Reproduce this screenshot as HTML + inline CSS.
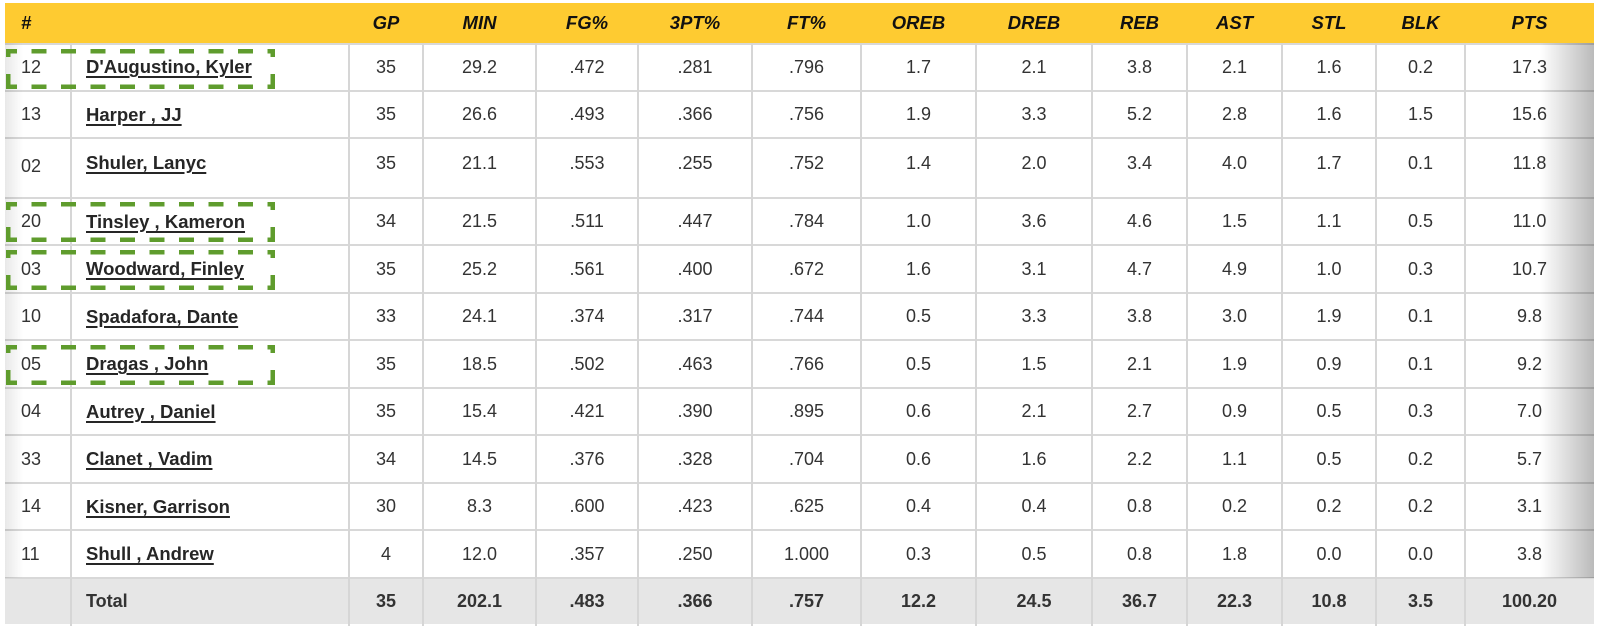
<!DOCTYPE html>
<html>
<head>
<meta charset="utf-8">
<style>
html,body{margin:0;padding:0;background:#fff;}
body{width:1600px;height:626px;position:relative;overflow:hidden;font-family:"Liberation Sans",Arial,sans-serif;color:#333;}
.hdr{position:absolute;left:5px;top:3px;width:1589px;height:40px;background:#fecb31;}
.row{position:absolute;left:5px;width:1589px;display:grid;grid-template-columns:66px 278px 74px 113px 102px 114px 109px 115px 116px 95px 95px 94px 89px 129px;align-items:center;}
.row>div{text-align:center;font-size:18px;white-space:nowrap;}
.row>div:nth-child(1){text-align:left;padding-left:16px;}
.row>div:nth-child(2){text-align:left;padding-left:15px;}
.hdr.row>div{font-weight:bold;font-style:italic;font-size:18.5px;color:#111;}
.nm{font-weight:bold;font-size:18.5px;color:#262626;text-decoration:underline;text-decoration-thickness:1.5px;text-underline-offset:3px;}
.tot{background:#e6e6e6;}
.tot>div{font-weight:bold;}
.hl{position:absolute;left:5px;width:1589px;height:2px;background:#d8d8d8;}
.vl{position:absolute;top:43px;height:583px;width:2px;background:#d6d6d6;}
.lg{position:absolute;left:5px;top:43px;width:18px;height:535px;background:linear-gradient(to right,rgba(0,0,0,0.09),rgba(0,0,0,0));}
.rg{position:absolute;left:1540px;top:43px;width:54px;height:535px;background:linear-gradient(to right,rgba(0,0,0,0),rgba(0,0,0,0.27));}
</style>
</head>
<body>
<div class="hdr row" style="top:3px;height:40px;">
<div>#</div><div></div><div>GP</div><div>MIN</div><div>FG%</div><div>3PT%</div><div>FT%</div><div>OREB</div><div>DREB</div><div>REB</div><div>AST</div><div>STL</div><div>BLK</div><div>PTS</div>
</div>

<div class="row" style="top:43px;height:48px;"><div>12</div><div><span class="nm">D'Augustino, Kyler</span></div><div>35</div><div>29.2</div><div>.472</div><div>.281</div><div>.796</div><div>1.7</div><div>2.1</div><div>3.8</div><div>2.1</div><div>1.6</div><div>0.2</div><div>17.3</div></div>
<div class="row" style="top:91px;height:47px;"><div>13</div><div><span class="nm">Harper , JJ</span></div><div>35</div><div>26.6</div><div>.493</div><div>.366</div><div>.756</div><div>1.9</div><div>3.3</div><div>5.2</div><div>2.8</div><div>1.6</div><div>1.5</div><div>15.6</div></div>
<div class="row" style="top:138px;height:50px;padding-bottom:10px;"><div style="margin-top:7px;">02</div><div><span class="nm">Shuler, Lanyc</span></div><div>35</div><div>21.1</div><div>.553</div><div>.255</div><div>.752</div><div>1.4</div><div>2.0</div><div>3.4</div><div>4.0</div><div>1.7</div><div>0.1</div><div>11.8</div></div>
<div class="row" style="top:198px;height:47px;"><div>20</div><div><span class="nm">Tinsley , Kameron</span></div><div>34</div><div>21.5</div><div>.511</div><div>.447</div><div>.784</div><div>1.0</div><div>3.6</div><div>4.6</div><div>1.5</div><div>1.1</div><div>0.5</div><div>11.0</div></div>
<div class="row" style="top:245px;height:48px;"><div>03</div><div><span class="nm">Woodward, Finley</span></div><div>35</div><div>25.2</div><div>.561</div><div>.400</div><div>.672</div><div>1.6</div><div>3.1</div><div>4.7</div><div>4.9</div><div>1.0</div><div>0.3</div><div>10.7</div></div>
<div class="row" style="top:293px;height:47px;"><div>10</div><div><span class="nm">Spadafora, Dante</span></div><div>33</div><div>24.1</div><div>.374</div><div>.317</div><div>.744</div><div>0.5</div><div>3.3</div><div>3.8</div><div>3.0</div><div>1.9</div><div>0.1</div><div>9.8</div></div>
<div class="row" style="top:340px;height:48px;"><div>05</div><div><span class="nm">Dragas , John</span></div><div>35</div><div>18.5</div><div>.502</div><div>.463</div><div>.766</div><div>0.5</div><div>1.5</div><div>2.1</div><div>1.9</div><div>0.9</div><div>0.1</div><div>9.2</div></div>
<div class="row" style="top:388px;height:47px;"><div>04</div><div><span class="nm">Autrey , Daniel</span></div><div>35</div><div>15.4</div><div>.421</div><div>.390</div><div>.895</div><div>0.6</div><div>2.1</div><div>2.7</div><div>0.9</div><div>0.5</div><div>0.3</div><div>7.0</div></div>
<div class="row" style="top:435px;height:48px;"><div>33</div><div><span class="nm">Clanet , Vadim</span></div><div>34</div><div>14.5</div><div>.376</div><div>.328</div><div>.704</div><div>0.6</div><div>1.6</div><div>2.2</div><div>1.1</div><div>0.5</div><div>0.2</div><div>5.7</div></div>
<div class="row" style="top:483px;height:47px;"><div>14</div><div><span class="nm">Kisner, Garrison</span></div><div>30</div><div>8.3</div><div>.600</div><div>.423</div><div>.625</div><div>0.4</div><div>0.4</div><div>0.8</div><div>0.2</div><div>0.2</div><div>0.2</div><div>3.1</div></div>
<div class="row" style="top:530px;height:48px;"><div>11</div><div><span class="nm">Shull , Andrew</span></div><div>4</div><div>12.0</div><div>.357</div><div>.250</div><div>1.000</div><div>0.3</div><div>0.5</div><div>0.8</div><div>1.8</div><div>0.0</div><div>0.0</div><div>3.8</div></div>
<div class="row tot" style="top:578px;height:46px;"><div></div><div>Total</div><div>35</div><div>202.1</div><div>.483</div><div>.366</div><div>.757</div><div>12.2</div><div>24.5</div><div>36.7</div><div>22.3</div><div>10.8</div><div>3.5</div><div>100.20</div></div>

<div class="hl" style="top:43px;"></div>
<div class="hl" style="top:90px;"></div>
<div class="hl" style="top:137px;"></div>
<div class="hl" style="top:197px;"></div>
<div class="hl" style="top:244px;"></div>
<div class="hl" style="top:292px;"></div>
<div class="hl" style="top:339px;"></div>
<div class="hl" style="top:387px;"></div>
<div class="hl" style="top:434px;"></div>
<div class="hl" style="top:482px;"></div>
<div class="hl" style="top:529px;"></div>
<div class="hl" style="top:577px;"></div>

<div class="vl" style="left:70px;"></div>
<div class="vl" style="left:348px;"></div>
<div class="vl" style="left:422px;"></div>
<div class="vl" style="left:535px;"></div>
<div class="vl" style="left:637px;"></div>
<div class="vl" style="left:751px;"></div>
<div class="vl" style="left:860px;"></div>
<div class="vl" style="left:975px;"></div>
<div class="vl" style="left:1091px;"></div>
<div class="vl" style="left:1186px;"></div>
<div class="vl" style="left:1281px;"></div>
<div class="vl" style="left:1375px;"></div>
<div class="vl" style="left:1464px;"></div>

<div class="lg"></div>
<div class="rg"></div>

<svg width="1600" height="626" style="position:absolute;left:0;top:0;" xmlns="http://www.w3.org/2000/svg">
<g stroke="#5f9c2d" stroke-width="4.5" fill="none">
<!-- row 1 box: 49-89 -->
<line x1="6" y1="51.25" x2="275" y2="51.25" stroke-dasharray="15 14.5" stroke-dashoffset="4"/>
<line x1="6" y1="86.75" x2="275" y2="86.75" stroke-dasharray="15 14.5" stroke-dashoffset="4"/>
<line x1="8.25" y1="49" x2="8.25" y2="89" stroke-dasharray="15 17" stroke-dashoffset="7"/>
<line x1="272.75" y1="49" x2="272.75" y2="89" stroke-dasharray="15 17" stroke-dashoffset="7"/>
<!-- row 4 box: 202-242 -->
<line x1="6" y1="204.25" x2="275" y2="204.25" stroke-dasharray="15 14.5" stroke-dashoffset="4"/>
<line x1="6" y1="239.75" x2="275" y2="239.75" stroke-dasharray="15 14.5" stroke-dashoffset="4"/>
<line x1="8.25" y1="202" x2="8.25" y2="242" stroke-dasharray="15 17" stroke-dashoffset="7"/>
<line x1="272.75" y1="202" x2="272.75" y2="242" stroke-dasharray="15 17" stroke-dashoffset="7"/>
<!-- row 5 box: 250-290 -->
<line x1="6" y1="252.25" x2="275" y2="252.25" stroke-dasharray="15 14.5" stroke-dashoffset="4"/>
<line x1="6" y1="287.75" x2="275" y2="287.75" stroke-dasharray="15 14.5" stroke-dashoffset="4"/>
<line x1="8.25" y1="250" x2="8.25" y2="290" stroke-dasharray="15 17" stroke-dashoffset="7"/>
<line x1="272.75" y1="250" x2="272.75" y2="290" stroke-dasharray="15 17" stroke-dashoffset="7"/>
<!-- row 7 box: 345-385 -->
<line x1="6" y1="347.25" x2="275" y2="347.25" stroke-dasharray="15 14.5" stroke-dashoffset="4"/>
<line x1="6" y1="382.75" x2="275" y2="382.75" stroke-dasharray="15 14.5" stroke-dashoffset="4"/>
<line x1="8.25" y1="345" x2="8.25" y2="385" stroke-dasharray="15 17" stroke-dashoffset="7"/>
<line x1="272.75" y1="345" x2="272.75" y2="385" stroke-dasharray="15 17" stroke-dashoffset="7"/>
</g>
</svg>
</body>
</html>
